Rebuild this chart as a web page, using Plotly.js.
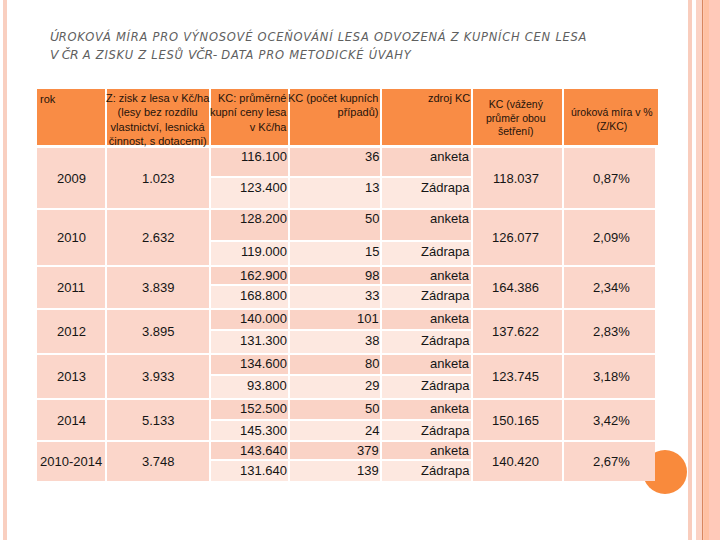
<!DOCTYPE html>
<html>
<head>
<meta charset="utf-8">
<script src="https://cdn.plot.ly/plotly-3.0.1.min.js"></script>
<style>html,body{margin:0;padding:0;background:#fff;}</style>
</head>
<body>
<div id="chart" style="width:720px;height:540px;"></div>
<script>
// ---- data ----
const years = ['2009', '2010', '2011', '2012', '2013', '2014', '2010-2014'];
const zisk = [1023, 2632, 3839, 3895, 3933, 5133, 3748];            // Z: zisk z lesa v Kč/ha
const kcAnketa = [116100, 128200, 162900, 140000, 134600, 152500, 143640];
const kcZadrapa = [123400, 119000, 168800, 131300, 93800, 145300, 131640];
const nAnketa = [36, 50, 98, 101, 80, 50, 379];
const nZadrapa = [13, 15, 33, 38, 29, 24, 139];
const sources = ['anketa', 'Zádrapa'];
const kcVazeny = [118037, 126077, 164386, 137622, 123745, 150165, 140420];
const urok = [0.87, 2.09, 2.34, 2.83, 3.18, 3.42, 2.67];
const headers = [
  'rok',
  'Z: zisk z lesa v Kč/ha<br>(lesy bez rozdílu<br>vlastnictví, lesnická<br>činnost, s dotacemi)',
  'KC: průměrné<br>kupní ceny lesa<br>v Kč/ha',
  'KC (počet kupních<br>případů)',
  'zdroj KC',
  'KC (vážený<br>průměr obou<br>šetření)',
  'úroková míra v %<br>(Z/KC)'
];
const titleLine1 = [['Ú', true], ['ROKOVÁ MÍRA PRO VÝNOSOVÉ OCEŇOVÁNÍ LESA ODVOZENÁ Z KUPNÍCH CEN LESA', false]];
const titleLine2 = [['V ČR', true], [' A ZISKU Z LESŮ ', false], ['VČR-', true], [' DATA PRO METODICKÉ ÚVAHY', false]];

// ---- layout geometry (pixels of the 720x540 slide) ----
const colL = [37, 107, 211, 290, 382, 473, 564];
const colR = [105, 209, 288, 380, 471, 562, 655];
const headTop = 89, headBot = 145;
const grpTop = [148, 210, 267, 310, 355, 400, 442];
const grpSplit = [177, 241, 285, 330, 375, 420, 460];
const grpBot = [208, 265, 308, 353, 398, 440, 481];

const C_HEAD = '#F98C45', C_MERGED = '#FBD6CA', C_SUB1 = '#FAD3C6', C_SUB2 = '#FDE8E0';
const FONT = 'Liberation Sans, Arial, sans-serif';

function thou(v) { return String(v).replace(/\B(?=(\d{3})+(?!\d))/g, '.'); }
function pct(v) { return v.toFixed(2).replace('.', ',') + '%'; }

const shapes = [];
const ann = [];

// decorative slide frame
function band(x0, x1, c) {
  shapes.push({type: 'rect', xref: 'x', yref: 'y', x0: x0, x1: x1, y0: 0, y1: 540, fillcolor: c, line: {width: 0}, layer: 'below'});
}
band(3, 7, '#F9CFC0');
band(688, 692, '#F9CDBD');
band(696, 702, '#FBD3C5');
band(702, 703.2, '#D9875F');
band(703.2, 709, '#FFC1A3');
band(709, 720, '#FFC9B9');
shapes.push({type: 'circle', xref: 'x', yref: 'y', x0: 643, x1: 687, y0: 450, y1: 494, fillcolor: '#F98A3C', line: {width: 0}});

function rect(x0, x1, y0, y1, c) {
  shapes.push({type: 'rect', xref: 'x', yref: 'y', x0: x0, x1: x1, y0: y0, y1: y1, fillcolor: c, line: {width: 0}});
}
function txt(t, x, y, xa, opts) {
  opts = opts || {};
  ann.push(Object.assign({text: t, x: x, y: y, xref: 'x', yref: 'y', xanchor: xa, yanchor: 'middle',
    showarrow: false, align: xa === 'center' ? 'center' : (xa === 'right' ? 'right' : 'left'),
    font: {family: FONT, size: 13, color: '#151515'}}, opts));
}

// title (two lines, small-caps look)
function capsLine(parts) {
  return parts.map(p => p[1]
    ? '<span style="font-size:12.5px;letter-spacing:-0.4px">' + p[0] + '</span>'
    : '<span style="font-size:11.5px;letter-spacing:0.75px">' + p[0] + '</span>').join('');
}
const tFont = {family: 'DejaVu Sans, sans-serif', size: 11.5, color: '#5f5f5f', style: 'italic', textcase: 'upper'};
txt(capsLine(titleLine1), 48, 36.5, 'left', {font: tFont});
txt(capsLine(titleLine2), 48, 54.5, 'left', {font: tFont});

// header
for (let c = 0; c < headers.length; c++) {
  rect(colL[c], colR[c] + (c === 6 ? 3 : 0), headTop, headBot, C_HEAD);
}
const hdFont = {family: FONT, size: 11, color: '#1f130b'};
txt(headers[0], colL[0] + 1, headTop + 2, 'left', {yanchor: 'top', font: hdFont});
txt(headers[1], (colL[1] + colR[1]) / 2, headTop + 1, 'center', {yanchor: 'top', font: hdFont});
txt(headers[2], colR[2] + 1, headTop + 1, 'right', {yanchor: 'top', font: hdFont});
txt(headers[3], colR[3] + 1, headTop + 1, 'right', {yanchor: 'top', font: hdFont});
txt(headers[4], colR[4] + 1, headTop + 1, 'right', {yanchor: 'top', font: hdFont});
txt(headers[5], (colL[5] + colR[5]) / 2 - 2, headTop + 7, 'center', {yanchor: 'top', font: {family: FONT, size: 10.5, color: '#1f130b'}});
txt(headers[6], (colL[6] + colR[6]) / 2 + 2, headTop + 15, 'center', {yanchor: 'top', font: {family: FONT, size: 10.5, color: '#1f130b'}});

// body
for (let g = 0; g < years.length; g++) {
  const t = grpTop[g], s = grpSplit[g], b = grpBot[g], mid = (t + b) / 2;
  [0, 1, 5, 6].forEach(c => rect(colL[c], colR[c], t, b, C_MERGED));
  [2, 3, 4].forEach(c => {
    rect(colL[c], colR[c], t, s - 1, C_SUB1);
    rect(colL[c], colR[c], s + 1, b, C_SUB2);
  });
  const y1 = t + 8.5, y2 = s + 10;
  txt(years[g], (colL[0] + colR[0]) / 2, mid, 'center');
  txt(thou(zisk[g]), (colL[1] + colR[1]) / 2, mid, 'center');
  txt(thou(kcAnketa[g]), colR[2] + 1, y1, 'right');
  txt(thou(kcZadrapa[g]), colR[2] + 1, y2, 'right');
  txt(String(nAnketa[g]), colR[3] + 1, y1, 'right');
  txt(String(nZadrapa[g]), colR[3] + 1, y2, 'right');
  txt(sources[0], colR[4] + 1, y1, 'right');
  txt(sources[1], colR[4] + 1, y2, 'right');
  txt(thou(kcVazeny[g]), (colL[5] + colR[5]) / 2 - 2, mid, 'center');
  txt(pct(urok[g]), (colL[6] + colR[6]) / 2 + 2, mid, 'center');
}

const layout = {
  width: 720, height: 540,
  margin: {l: 0, r: 0, t: 0, b: 0},
  paper_bgcolor: '#ffffff', plot_bgcolor: '#ffffff',
  xaxis: {range: [0, 720], visible: false, fixedrange: true},
  yaxis: {range: [540, 0], visible: false, fixedrange: true},
  showlegend: false,
  shapes: shapes,
  annotations: ann
};

Plotly.newPlot('chart', [{x: [], y: [], type: 'scatter', mode: 'markers', hoverinfo: 'skip'}], layout, {displayModeBar: false, staticPlot: true});
</script>
</body>
</html>
